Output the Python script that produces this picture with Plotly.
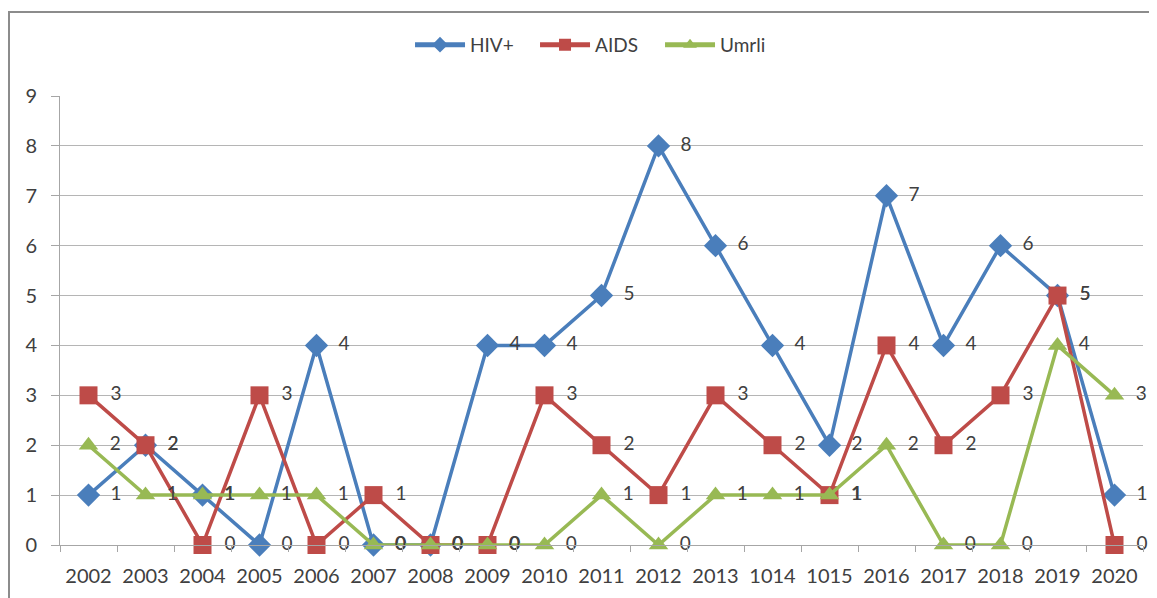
import plotly.graph_objects as go

years = ["2002", "2003", "2004", "2005", "2006", "2007", "2008", "2009", "2010", "2011",
         "2012", "2013", "1014", "1015", "2016", "2017", "2018", "2019", "2020"]
hiv = [1, 2, 1, 0, 4, 0, 0, 4, 4, 5, 8, 6, 4, 2, 7, 4, 6, 5, 1]
aids = [3, 2, 0, 3, 0, 1, 0, 0, 3, 2, 1, 3, 2, 1, 4, 2, 3, 5, 0]
umrli = [2, 1, 1, 1, 1, 0, 0, 0, 0, 1, 0, 1, 1, 1, 2, 0, 0, 4, 3]
y_ticks = list(range(0, 10))

FONT = "Lato"
TXT = "#404040"

series = [
    ("HIV+", hiv, "#4A7EBB", "diamond", 18),
    ("AIDS", aids, "#BE4B48", "square", 18),
    ("Umrli", umrli, "#98B954", "triangle-up", 17),
]

fig = go.Figure()
for name, vals, col, sym, sz in series:
    fig.add_trace(go.Scatter(
        x=years, y=vals, name=name, mode="lines+markers+text",
        line=dict(color=col, width=3.5),
        marker=dict(symbol=sym, size=sz, color=col, line=dict(width=0)),
        text=["\u00a0\u00a0" + str(v) for v in vals],
        textposition="middle right",
        textfont=dict(family=FONT, size=19, color=TXT),
        cliponaxis=False,
    ))

fig.update_layout(
    width=1157, height=598,
    margin=dict(l=52, r=22, t=88, b=61, autoexpand=False),
    paper_bgcolor="white", plot_bgcolor="white",
    font=dict(family=FONT, size=19, color=TXT),
    showlegend=True,
    legend=dict(orientation="h", x=0.3232, xanchor="left", y=1.114, yanchor="middle",
                font=dict(family=FONT, size=19, color=TXT), itemwidth=50,
                itemsizing="constant", entrywidth=60, entrywidthmode="pixels"),
    xaxis=dict(type="category", categoryorder="array", categoryarray=years,
               showgrid=False, showline=True, linecolor="#A6A6A6", linewidth=1,
               ticks="outside", tickson="boundaries", ticklen=6, tickcolor="#A6A6A6",
               ticklabelstandoff=13, tickfont=dict(family=FONT, size=20, color=TXT),
               zeroline=False, range=[-0.5, len(years) - 0.5]),
    yaxis=dict(range=[0, 9], tickvals=y_ticks, showgrid=True, gridcolor="#B5B5B5",
               gridwidth=1, showline=True, linecolor="#A6A6A6", linewidth=1,
               ticks="outside", ticklen=8, tickcolor="#A6A6A6", ticklabelstandoff=10,
               tickfont=dict(family=FONT, size=20, color=TXT), zeroline=False),
    shapes=[dict(type="rect", xref="paper", yref="paper",
                 x0=-0.0471, x1=1.02, y0=-0.13, y1=1.187,
                 line=dict(color="#8C8C8C", width=2), fillcolor="rgba(0,0,0,0)", layer="below")],
)

fig.write_html("out.html")
